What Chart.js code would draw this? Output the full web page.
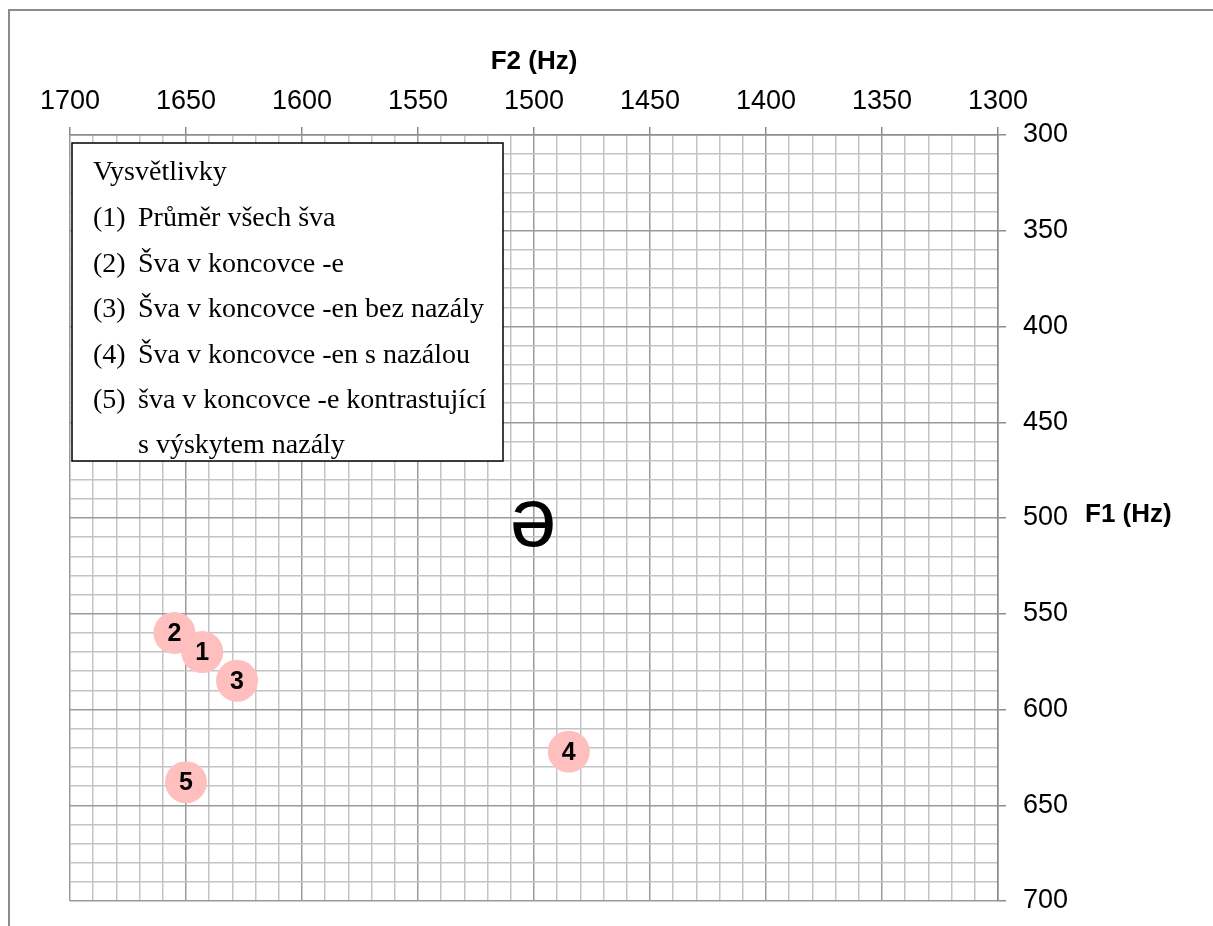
<!DOCTYPE html>
<html>
<head>
<meta charset="utf-8">
<title>Šva – F1/F2</title>
<script src="https://cdn.jsdelivr.net/npm/chart.js@4"></script>
<style>
  html, body { margin: 0; padding: 0; background: #fff; overflow: hidden; }
  #wrap { position: relative; width: 1213px; height: 926px; }
</style>
</head>
<body>
<div id="wrap"><canvas id="chart" width="1213" height="926"></canvas></div>
<script>
// values
const pointLabels = ["1", "2", "3", "4", "5"];
const f2Values = [1643, 1655, 1628, 1485, 1650];
const f1Values = [570, 560, 585, 622, 638];

// the schwa symbol placed on the chart
const symbolText = ["ə"];
const symbolF2 = [1500];
const symbolF1 = [500];

const f2Range = [1300, 1700];
const f1Range = [300, 700];

const legendTitle = "Vysvětlivky";
const legendNums = ["(1)", "(2)", "(3)", "(4)", "(5)", ""];
const legendTexts = [
  "Průměr všech šva",
  "Šva v koncovce -e",
  "Šva v koncovce -en bez nazály",
  "Šva v koncovce -en s nazálou",
  "šva v koncovce -e kontrastující",
  "s výskytem nazály"
];

const sans = "'Liberation Sans', Arial, sans-serif";
const serif = "'Liberation Serif', 'Times New Roman', serif";

const points = f2Values.map((v, i) => ({ x: v, y: f1Values[i] }));

function isMajor(v) { return v % 50 === 0; }

const gridStyle = {
  color: ctx => isMajor(ctx.tick.value) ? "#9a9a9a" : "#c4c4c4",
  lineWidth: 1.5,
  tickColor: ctx => isMajor(ctx.tick.value) ? "#8a8a8a" : "rgba(0,0,0,0)",
  tickLength: 8,
  tickWidth: 1.5
};

// frame, titles, legend box and labels
const extras = {
  id: "extras",
  beforeDraw(chart) {
    const c = chart.ctx;
    c.save();
    c.strokeStyle = "#8c8c8c";
    c.lineWidth = 2;
    c.beginPath();
    c.moveTo(9, 930);
    c.lineTo(9, 10);
    c.lineTo(1220, 10);
    c.stroke();
    c.restore();
  },
  afterDatasetsDraw(chart) {
    const c = chart.ctx;
    const xs = chart.scales.x, ys = chart.scales.y;
    const area = chart.chartArea;
    c.save();

    // schwa
    c.fillStyle = "#000";
    c.font = "84px " + sans;
    c.textAlign = "center";
    c.textBaseline = "middle";
    symbolText.forEach((t, i) => {
      c.fillText(t, xs.getPixelForValue(symbolF2[i]) - 1, ys.getPixelForValue(symbolF1[i]) + 5);
    });

    // point numbers
    const meta = chart.getDatasetMeta(0);
    c.font = "bold 25px " + sans;
    meta.data.forEach((el, i) => {
      c.fillText(pointLabels[i], el.x, el.y + 1);
    });

    // legend box
    const bx = 72, by = 143, bw = 431, bh = 318;
    c.fillStyle = "#fff";
    c.fillRect(bx, by, bw, bh);
    c.strokeStyle = "#000";
    c.lineWidth = 1.5;
    c.strokeRect(bx, by, bw, bh);
    c.fillStyle = "#000";
    c.textAlign = "left";
    c.font = "28px " + serif;
    c.fillText(legendTitle, 93, 173);
    legendTexts.forEach((t, i) => {
      const y = 219 + i * 45.4;
      if (legendNums[i]) c.fillText(legendNums[i], 93, y);
      c.fillText(t, 138, y);
    });

    // axis titles
    c.font = "bold 26px " + sans;
    c.textAlign = "center";
    c.fillText("F2 (Hz)", (area.left + area.right) / 2, 62);
    c.textAlign = "left";
    c.fillText("F1 (Hz)", 1085, 515);
    c.restore();
  }
};

new Chart(document.getElementById("chart"), {
  type: "scatter",
  data: {
    datasets: [{
      data: points,
      pointRadius: 21,
      pointHoverRadius: 21,
      pointBackgroundColor: "#ffbfbf",
      pointBorderWidth: 0,
      pointBorderColor: "rgba(0,0,0,0)"
    }]
  },
  options: {
    responsive: false,
    animation: false,
    devicePixelRatio: 1,
    events: [],
    layout: { padding: { left: 70, right: 0, top: 0, bottom: 25 } },
    plugins: { legend: { display: false }, tooltip: { enabled: false } },
    scales: {
      x: {
        type: "linear",
        position: "top",
        reverse: true,
        min: f2Range[0],
        max: f2Range[1],
        afterFit(s) { s.height = 135; s.paddingLeft = 0; s.paddingRight = 0; },
        ticks: {
          stepSize: 10,
          autoSkip: false,
          maxRotation: 0,
          padding: 9,
          color: "#000",
          font: { family: sans, size: 27 },
          callback: v => isMajor(v) ? String(v) : ""
        },
        grid: gridStyle,
        border: { color: "#8a8a8a", width: 1.5 }
      },
      y: {
        type: "linear",
        position: "right",
        reverse: true,
        min: f1Range[0],
        max: f1Range[1],
        afterFit(s) { s.width = 215; s.paddingTop = 0; s.paddingBottom = 0; },
        ticks: {
          stepSize: 10,
          autoSkip: false,
          padding: 17,
          color: "#000",
          font: { family: sans, size: 27 },
          callback: v => isMajor(v) ? String(v) : ""
        },
        grid: gridStyle,
        border: { color: "#8a8a8a", width: 1.5 }
      }
    }
  },
  plugins: [extras]
});
</script>
</body>
</html>
